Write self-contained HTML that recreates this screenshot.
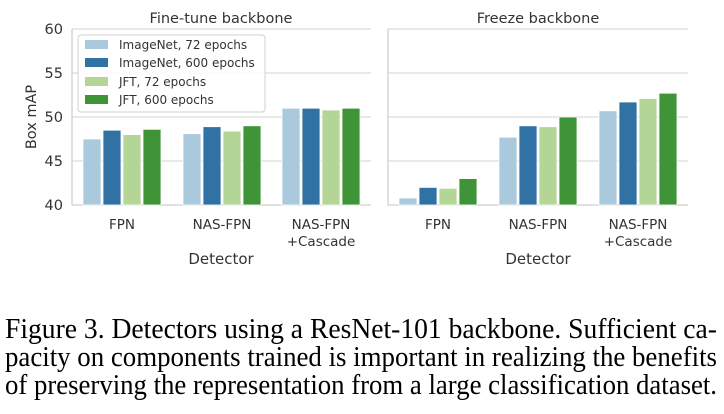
<!DOCTYPE html>
<html><head><meta charset="utf-8"><style>
html,body{margin:0;padding:0;background:#fff;width:724px;height:414px;overflow:hidden}
</style></head><body>
<svg width="724" height="414" viewBox="0 0 724 414" xmlns="http://www.w3.org/2000/svg" font-family="'DejaVu Sans','Liberation Sans',sans-serif" fill="#333">
<g stroke="#dcdcdc" stroke-width="1.3">
<line x1="72" y1="29" x2="371" y2="29"/><line x1="72" y1="73" x2="371" y2="73"/><line x1="72" y1="117" x2="371" y2="117"/><line x1="72" y1="161" x2="371" y2="161"/>
<line x1="388" y1="29" x2="688" y2="29"/><line x1="388" y1="73" x2="688" y2="73"/><line x1="388" y1="117" x2="688" y2="117"/><line x1="388" y1="161" x2="688" y2="161"/>
</g>
<g stroke="#cfcfcf" stroke-width="1.3">
<line x1="72" y1="29" x2="72" y2="205"/><line x1="72" y1="205" x2="371" y2="205"/>
<line x1="388" y1="29" x2="388" y2="205"/><line x1="388" y1="205" x2="688" y2="205"/>
</g>
<g stroke="#fff" stroke-width="0.8">
<rect x="83" y="139" width="18" height="66" fill="#aac9dc"/>
<rect x="103" y="130.2" width="18" height="74.8" fill="#2f72a3"/>
<rect x="123" y="134.6" width="18" height="70.4" fill="#b3d596"/>
<rect x="143" y="129.3" width="18" height="75.7" fill="#3f9438"/>
<rect x="183" y="133.7" width="18" height="71.3" fill="#aac9dc"/>
<rect x="203" y="126.7" width="18" height="78.3" fill="#2f72a3"/>
<rect x="223" y="131.1" width="18" height="73.9" fill="#b3d596"/>
<rect x="243" y="125.8" width="18" height="79.2" fill="#3f9438"/>
<rect x="282" y="108.2" width="18" height="96.8" fill="#aac9dc"/>
<rect x="302" y="108.2" width="18" height="96.8" fill="#2f72a3"/>
<rect x="322" y="110" width="18" height="95" fill="#b3d596"/>
<rect x="342" y="108.2" width="18" height="96.8" fill="#3f9438"/>
<rect x="399" y="198" width="18" height="7" fill="#aac9dc"/>
<rect x="419" y="187.4" width="18" height="17.6" fill="#2f72a3"/>
<rect x="439" y="188.3" width="18" height="16.7" fill="#b3d596"/>
<rect x="459" y="178.6" width="18" height="26.4" fill="#3f9438"/>
<rect x="499" y="137.2" width="18" height="67.8" fill="#aac9dc"/>
<rect x="519" y="125.8" width="18" height="79.2" fill="#2f72a3"/>
<rect x="539" y="126.7" width="18" height="78.3" fill="#b3d596"/>
<rect x="559" y="117" width="18" height="88" fill="#3f9438"/>
<rect x="599" y="110.8" width="18" height="94.2" fill="#aac9dc"/>
<rect x="619" y="102" width="18" height="103" fill="#2f72a3"/>
<rect x="639" y="98.5" width="18" height="106.5" fill="#b3d596"/>
<rect x="659" y="93.2" width="18" height="111.8" fill="#3f9438"/>
</g>
<rect x="78" y="35" width="187" height="77" rx="3" fill="#fff" fill-opacity="0.85" stroke="#d0d0d0"/>
<rect x="85" y="40" width="23" height="9" fill="#aac9dc"/>
<rect x="85" y="58" width="23" height="9" fill="#2f72a3"/>
<rect x="85" y="77" width="23" height="9" fill="#b3d596"/>
<rect x="85" y="95" width="23" height="9" fill="#3f9438"/>
<g font-size="12">
<text x="119" y="49">ImageNet, 72 epochs</text>
<text x="119" y="67">ImageNet, 600 epochs</text>
<text x="119" y="86">JFT, 72 epochs</text>
<text x="119" y="104">JFT, 600 epochs</text>
</g>
<g font-size="14.5" text-anchor="end">
<text x="63" y="34">60</text><text x="63" y="78">55</text><text x="63" y="122">50</text><text x="63" y="166">45</text><text x="63" y="210">40</text>
</g>
<text transform="translate(36,117) rotate(-90)" font-size="14.5" text-anchor="middle">Box mAP</text>
<g font-size="14.5" text-anchor="middle">
<text x="221" y="23">Fine-tune backbone</text>
<text x="538" y="23">Freeze backbone</text>
</g>
<g font-size="13.5" text-anchor="middle">
<text x="122" y="229">FPN</text><text x="222" y="229">NAS-FPN</text><text x="321" y="229">NAS-FPN</text><text x="321" y="246">+Cascade</text>
<text x="438" y="229">FPN</text><text x="538" y="229">NAS-FPN</text><text x="638" y="229">NAS-FPN</text><text x="638" y="246">+Cascade</text>
</g>
<g font-size="15" text-anchor="middle">
<text x="221" y="264">Detector</text><text x="538" y="264">Detector</text>
</g>
<g font-family="'Liberation Serif',serif" font-size="28" fill="#000">
<text x="5" y="338" textLength="712" lengthAdjust="spacingAndGlyphs">Figure 3.  Detectors using a ResNet-101 backbone. Sufficient ca-</text>
<text x="5" y="366" textLength="712" lengthAdjust="spacingAndGlyphs">pacity on components trained is important in realizing the benefits</text>
<text x="5" y="394" textLength="712" lengthAdjust="spacingAndGlyphs">of preserving the representation from a large classification dataset.</text>
</g>
</svg>
</body></html>
